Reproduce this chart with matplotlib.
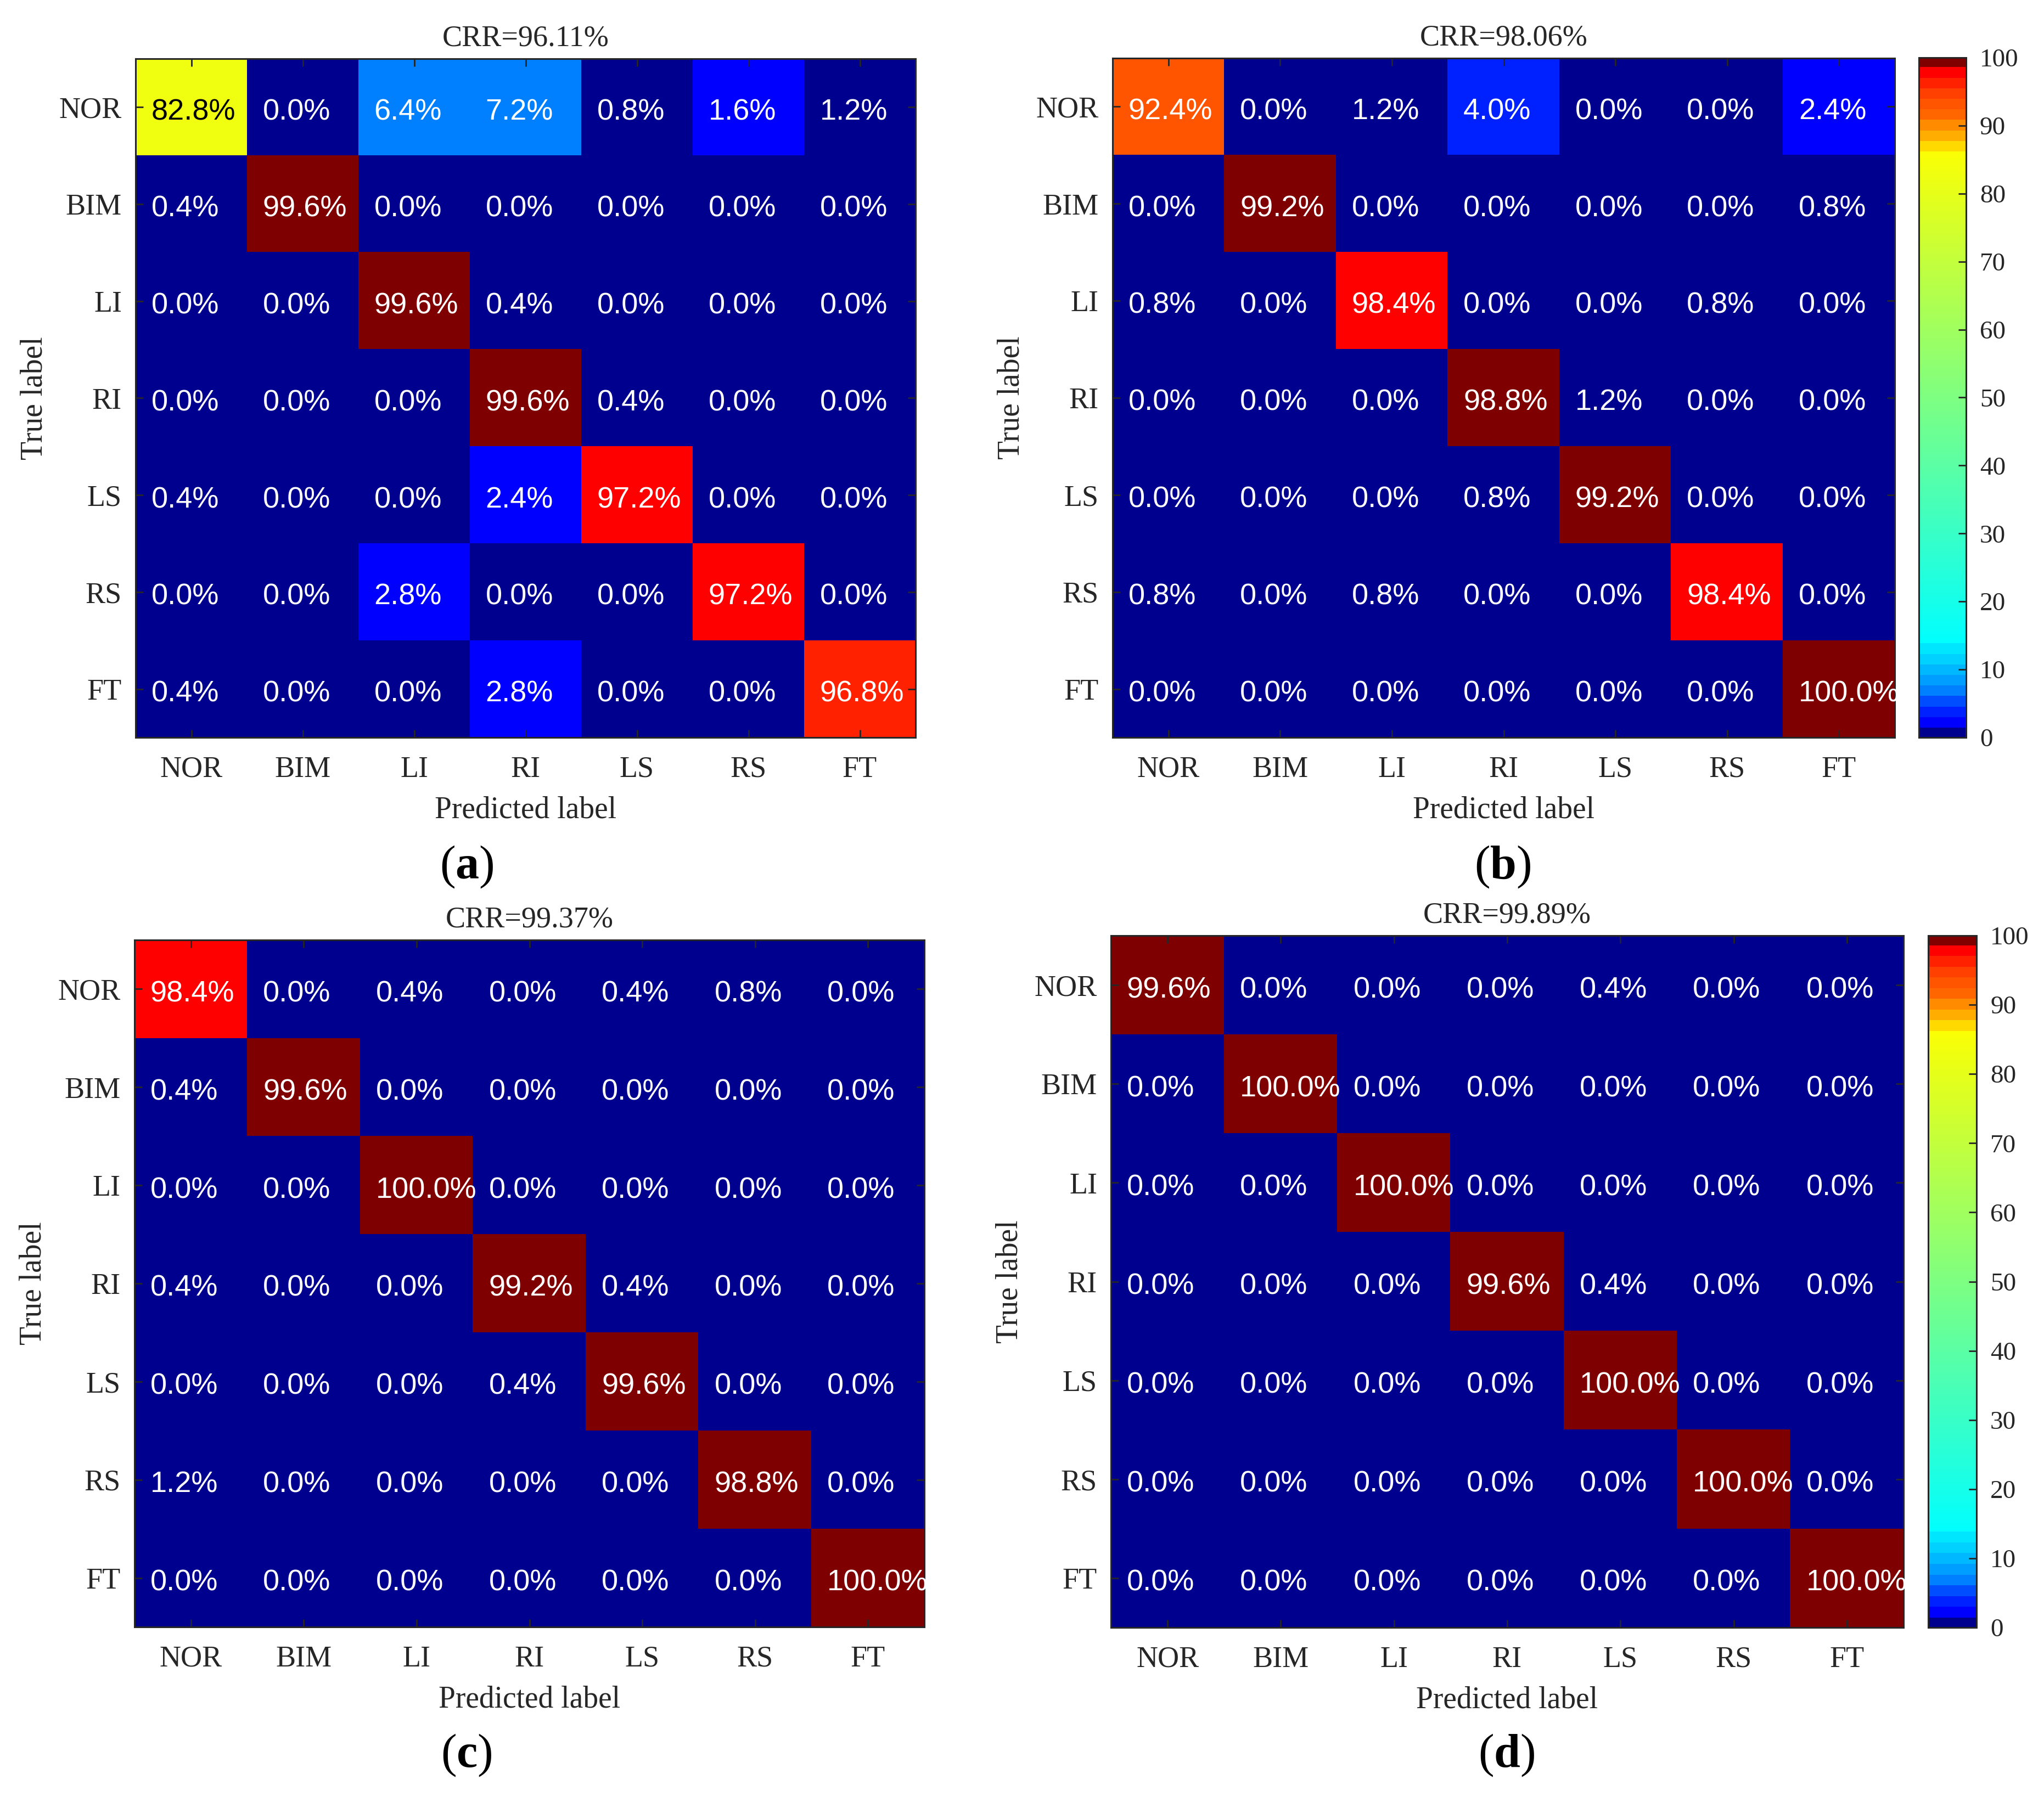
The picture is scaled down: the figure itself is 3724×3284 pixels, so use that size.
"""
Confusion matrices (a)-(d) for the four models, MATLAB-style jet banding.
"""
import numpy as np
import matplotlib
matplotlib.use('Agg')
import matplotlib.pyplot as plt
from matplotlib.colors import ListedColormap, Normalize

plt.rcParams.update({
    'font.family': 'Liberation Serif',
    'mathtext.fontset': 'custom',
    'mathtext.rm': 'Liberation Serif',
    'mathtext.bf': 'Liberation Serif:bold',
    'axes.linewidth': 1.1,
    'axes.edgecolor': '#262626',
    'xtick.color': '#262626', 'ytick.color': '#262626',
    'xtick.labelcolor': '#262626', 'ytick.labelcolor': '#262626',
})

classes = ['NOR', 'BIM', 'LI', 'RI', 'LS', 'RS', 'FT']

cm_a = [[82.8, 0.0, 6.4, 7.2, 0.8, 1.6, 1.2],
        [0.4, 99.6, 0.0, 0.0, 0.0, 0.0, 0.0],
        [0.0, 0.0, 99.6, 0.4, 0.0, 0.0, 0.0],
        [0.0, 0.0, 0.0, 99.6, 0.4, 0.0, 0.0],
        [0.4, 0.0, 0.0, 2.4, 97.2, 0.0, 0.0],
        [0.0, 0.0, 2.8, 0.0, 0.0, 97.2, 0.0],
        [0.4, 0.0, 0.0, 2.8, 0.0, 0.0, 96.8]]
cm_b = [[92.4, 0.0, 1.2, 4.0, 0.0, 0.0, 2.4],
        [0.0, 99.2, 0.0, 0.0, 0.0, 0.0, 0.8],
        [0.8, 0.0, 98.4, 0.0, 0.0, 0.8, 0.0],
        [0.0, 0.0, 0.0, 98.8, 1.2, 0.0, 0.0],
        [0.0, 0.0, 0.0, 0.8, 99.2, 0.0, 0.0],
        [0.8, 0.0, 0.8, 0.0, 0.0, 98.4, 0.0],
        [0.0, 0.0, 0.0, 0.0, 0.0, 0.0, 100.0]]
cm_c = [[98.4, 0.0, 0.4, 0.0, 0.4, 0.8, 0.0],
        [0.4, 99.6, 0.0, 0.0, 0.0, 0.0, 0.0],
        [0.0, 0.0, 100.0, 0.0, 0.0, 0.0, 0.0],
        [0.4, 0.0, 0.0, 99.2, 0.4, 0.0, 0.0],
        [0.0, 0.0, 0.0, 0.4, 99.6, 0.0, 0.0],
        [1.2, 0.0, 0.0, 0.0, 0.0, 98.8, 0.0],
        [0.0, 0.0, 0.0, 0.0, 0.0, 0.0, 100.0]]
cm_d = [[99.6, 0.0, 0.0, 0.0, 0.4, 0.0, 0.0],
        [0.0, 100.0, 0.0, 0.0, 0.0, 0.0, 0.0],
        [0.0, 0.0, 100.0, 0.0, 0.0, 0.0, 0.0],
        [0.0, 0.0, 0.0, 99.6, 0.4, 0.0, 0.0],
        [0.0, 0.0, 0.0, 0.0, 100.0, 0.0, 0.0],
        [0.0, 0.0, 0.0, 0.0, 0.0, 100.0, 0.0],
        [0.0, 0.0, 0.0, 0.0, 0.0, 0.0, 100.0]]

crr = ['96.11', '98.06', '99.37', '99.89']
panel_tags = ['a', 'b', 'c', 'd']


# --- colormap: banded jet ends, smooth cyan->yellow middle ---
LOW_G = [0.0, 0.13, 0.3, 0.5, 0.62, 0.72, 0.82, 0.9]
HIGH_G = [0.0, 0.13, 0.25, 0.33, 0.40, 0.55, 0.68, 0.85]
BAND = 1.55
LOW0, HIGH0 = 1.45, 98.6
low_end = LOW0 + len(LOW_G) * BAND
high_end = HIGH0 - len(HIGH_G) * BAND

def jetish(v):
    if v < LOW0:
        return (0.0, 0.0, 0.5625)
    if v < low_end:
        return (0.0, LOW_G[int((v - LOW0) // BAND)], 1.0)
    if v < high_end:
        t = (v - low_end) / (high_end - low_end)
        t = min(1.0, t * 0.985)
        return (t, 1.0, 1.0 - t)
    if v < HIGH0:
        return (1.0, HIGH_G[int((HIGH0 - v) // BAND)], 0.0)
    return (0.5, 0.0, 0.0)

vals = np.linspace(0, 100, 2000, endpoint=False) + 0.025
cmap = ListedColormap([jetish(v) for v in vals])
norm = Normalize(0, 100)

W, H = 3724, 3284
def box(x0, y0, x1, y1):
    return [x0 / W, 1 - y1 / H, (x1 - x0) / W, (y1 - y0) / H]

fig = plt.figure(figsize=(W / 200, H / 200), dpi=200)

ax_boxes = [box(247, 107, 1668, 1344), box(2027, 106, 3452, 1344),
            box(245, 1713, 1684, 2965), box(2024, 1705, 3468, 2966)]
cb_boxes = [None, box(3496, 105, 3582, 1344), None, box(3513, 1705, 3601, 2966)]
tag_pos = [(850, 1580), (2738, 1580), (850, 3199), (2745, 3199)]

for k, cm in enumerate([cm_a, cm_b, cm_c, cm_d]):
    cm = np.array(cm)
    ax = fig.add_axes(ax_boxes[k])
    im = ax.imshow(cm, cmap=cmap, norm=norm, aspect='auto', interpolation='nearest')
    for i in range(7):
        for j in range(7):
            r, g, b, _ = cmap(norm(cm[i, j]))
            lum = 0.2126 * r + 0.7152 * g + 0.0722 * b
            ax.text(j - 0.36, i + 0.05, f'{cm[i, j]:.1f}%', ha='left', va='center',
                    fontsize=19.5, family='Liberation Sans',
                    color='black' if lum > 0.6 else 'white')
    ax.set_xticks(range(7)); ax.set_yticks(range(7))
    ax.set_xticklabels(classes); ax.set_yticklabels(classes)
    ax.tick_params(axis='both', direction='in', length=5, width=1, labelsize=19.5,
                   top=True, right=True)
    ax.tick_params(axis='x', pad=12)
    ax.tick_params(axis='y', pad=9)
    ax.set_xlabel('Predicted label', fontsize=20, color='#262626', labelpad=8)
    ax.set_ylabel('True label', fontsize=20, color='#262626', labelpad=7)
    ax.set_title(f'CRR={crr[k]}%', fontsize=19.5, color='#262626', pad=8.5)

    tx, ty = tag_pos[k]
    fig.text(tx / W, 1 - ty / H, r'($\mathbf{%s}$)' % panel_tags[k], fontsize=31,
             ha='center', va='center')

    if cb_boxes[k] is not None:
        cax = fig.add_axes(cb_boxes[k])
        cb = fig.colorbar(im, cax=cax, ticks=range(0, 101, 10))
        cb.outline.set_linewidth(1.1)
        cb.outline.set_edgecolor('#262626')
        cax.tick_params(direction='in', length=5, width=1, labelsize=17, pad=9)

fig.savefig('out.png', dpi=200)
